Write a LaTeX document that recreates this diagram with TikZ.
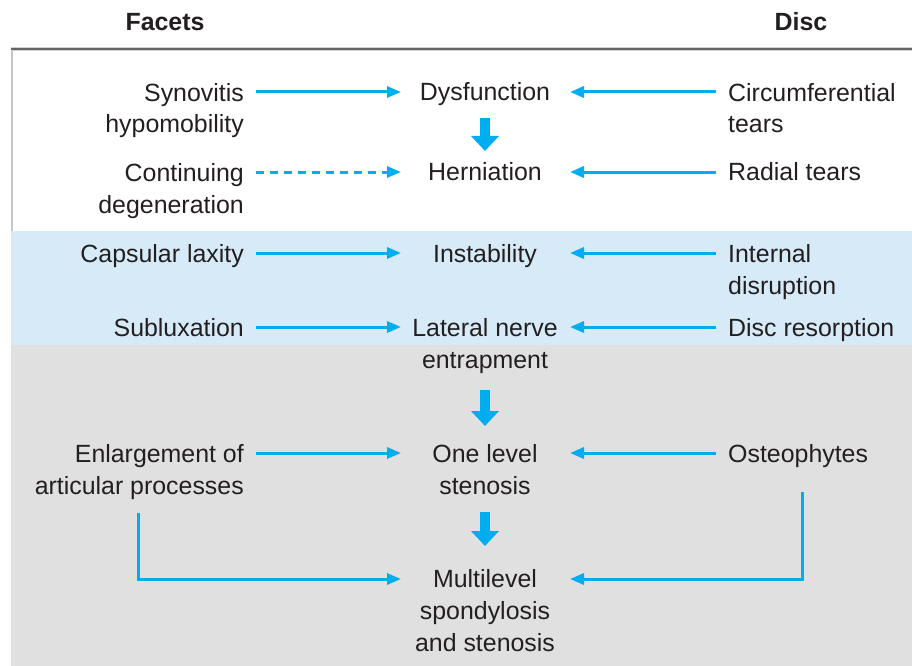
\documentclass[tikz,border=0pt]{standalone}
\usepackage{fontspec}
\setmainfont{Liberation Sans}
\usetikzlibrary{arrows.meta,calc}
\definecolor{cy}{RGB}{0,174,239}
\definecolor{bandblue}{RGB}{214,234,248}
\definecolor{bandgray}{RGB}{224,224,224}
\definecolor{txt}{RGB}{35,31,32}
\definecolor{rule}{RGB}{100,100,100}
\begin{document}
\begin{tikzpicture}[x=1bp,y=-1bp,
  lbl/.style={font=\fontsize{25}{32}\selectfont, text=txt, inner sep=0pt},
  lft/.style={lbl, align=right, anchor=base east},
  ctr/.style={lbl, align=center, anchor=base},
  rgt/.style={lbl, align=left, anchor=base west},
  hdr/.style={lbl, font=\fontsize{25}{32}\selectfont\bfseries, anchor=base},
  arr/.style={draw=cy, line width=3bp, -{Triangle[length=14bp,width=11bp]}},
  dasharr/.style={arr, dash pattern=on 8bp off 6bp},
  bigarr/.style={draw=cy, line width=10.5bp, -{Triangle[length=15bp,width=27bp]}}
]
\useasboundingbox (0,0) rectangle (912,666);
\fill[white] (0,0) rectangle (912,666);
\fill[bandblue] (11,231) rectangle (912,345);
\fill[bandgray] (11,345) rectangle (912,666);
\draw[gray!45, line width=2bp] (12,48) -- (12,231);
\draw[gray!35, line width=4bp] (11,49) -- (912,49);
\draw[rule, line width=2bp] (11,49) -- (912,49);

% headers
\node[hdr] (facets) at (165,31) {Facets};
\node[hdr] (disc) at (801,31) {Disc};

% column coordinates for arrows
\coordinate (La) at (256,0);
\coordinate (Lb) at (401,0);
\coordinate (Ra) at (716,0);
\coordinate (Rb) at (570,0);

% (multi-line nodes are anchored at the baseline of their last line)
% row 1
\node[lft] (syn) at (244,133) {Synovitis\\hypomobility};
\node[ctr] (dys) at (485,101) {Dysfunction};
\node[rgt] (circ) at (728,133) {Circumferential\\tears};
% row 2
\node[lft] (cont) at (244,213) {Continuing\\degeneration};
\node[ctr] (hern) at (485,181) {Herniation};
\node[rgt] (rad) at (728,181) {Radial tears};
% row 3
\node[lft] (cap) at (244,262) {Capsular laxity};
\node[ctr] (inst) at (485,262) {Instability};
\node[rgt] (intd) at (728,294) {Internal\\disruption};
% row 4
\node[lft] (sub) at (244,336) {Subluxation};
\node[ctr] (lat) at (485,368) {Lateral nerve\\entrapment};
\node[rgt] (dres) at (728,336) {Disc resorption};
% row 5
\node[lft] (enl) at (244,494) {Enlargement of\\articular processes};
\node[ctr] (one) at (485,494) {One level\\stenosis};
\node[rgt] (ost) at (728,462) {Osteophytes};
% row 6
\node[ctr] (multi) at (485,651) {Multilevel\\spondylosis\\and stenosis};

% row reference coordinates (visual centre of first text line)
\coordinate (r1) at ($(dys.base)+(0,-9)$);
\coordinate (r2) at ($(hern.base)+(0,-9)$);
\coordinate (r3) at ($(inst.base)+(0,-9)$);
\coordinate (r4) at ($(sub.base)+(0,-9)$);
\coordinate (r5) at ($(ost.base)+(0,-9)$);
\coordinate (r6) at ($(multi.base)+(0,-72)$);

% horizontal arrows
\draw[arr] (La |- r1) -- (Lb |- r1);
\draw[arr] (Ra |- r1) -- (Rb |- r1);
\draw[dasharr] (La |- r2) -- (Lb |- r2);
\draw[arr] (Ra |- r2) -- (Rb |- r2);
\draw[arr] (La |- r3) -- (Lb |- r3);
\draw[arr] (Ra |- r3) -- (Rb |- r3);
\draw[arr] (La |- r4) -- (Lb |- r4);
\draw[arr] (Ra |- r4) -- (Rb |- r4);
\draw[arr] (La |- r5) -- (Lb |- r5);
\draw[arr] (Ra |- r5) -- (Rb |- r5);

% big down arrows
\draw[bigarr] ($(dys.base)+(0,17)$) -- ($(hern.base)+(0,-30)$);
\draw[bigarr] ($(lat.base)+(0,22)$) -- ($(one.base)+(0,-68)$);
\draw[bigarr] ($(one.base)+(0,18)$) -- ($(multi.base)+(0,-105)$);

% elbow connectors
\coordinate (eL) at (138,0);
\coordinate (eR) at (802,0);
\draw[arr] ($(eL |- enl.south)+(0,14)$) |- (Lb |- r6);
\draw[arr] ($(eR |- ost.south)+(0,25)$) |- (Rb |- r6);
\end{tikzpicture}
\end{document}
